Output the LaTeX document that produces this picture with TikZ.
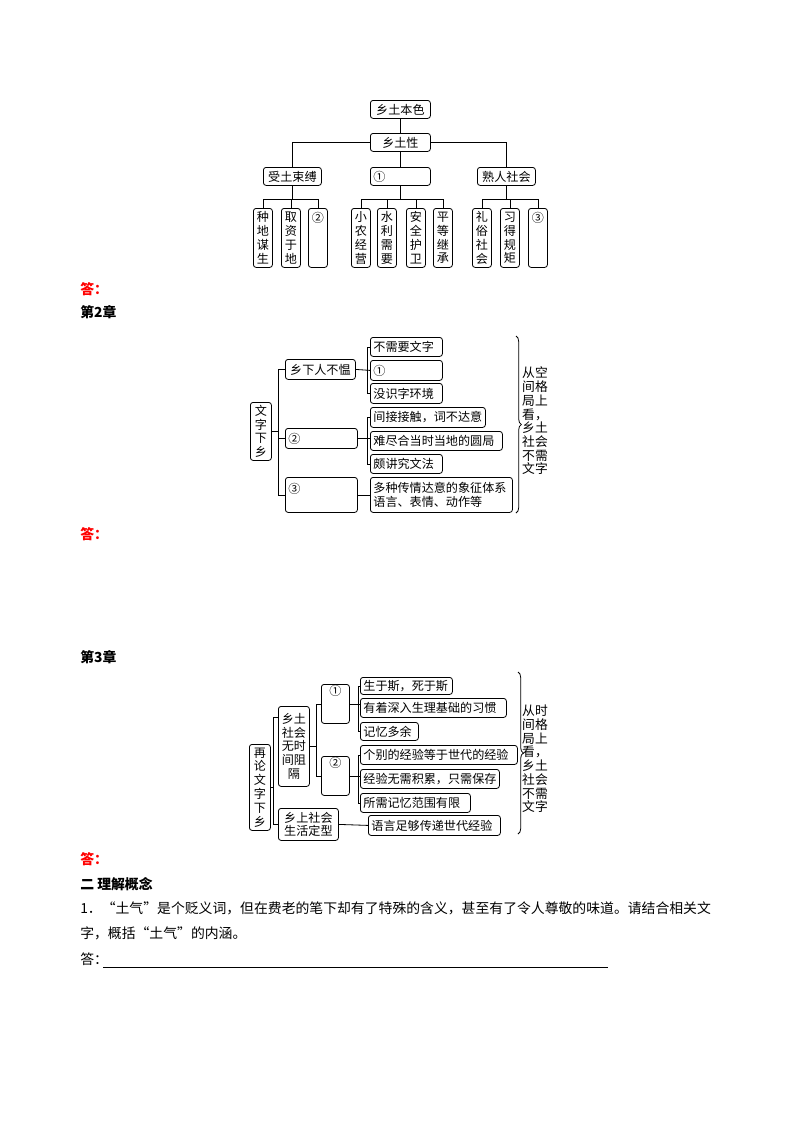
\documentclass[tikz,border=0pt]{standalone}
\usepackage{fontspec}
\setmainfont{Noto Sans CJK SC}
\usetikzlibrary{decorations.pathreplacing,calc}
\newcommand\bx[8]{%
  \pgfmathsetlengthmacro\tw{(#4-#2-6)*0.744pt}%
  \node[box,anchor=north west,minimum width={(#4-#2)*0.744pt},minimum height={(#5-#3)*0.744pt},text width=\tw,align=#6] (#1) at (#2,#3) {#7};}
\begin{document}
\begin{tikzpicture}[x=0.744pt,y=-0.744pt,
  box/.style={draw,rounded corners=2pt,line width=0.6pt,inner xsep=2.232pt,inner ysep=0pt,font=\fontsize{9}{10.3}\selectfont},
  ln/.style={line width=0.6pt},
  body/.style={anchor=west,inner sep=0,font=\fontsize{10.3}{12}\selectfont},
  side/.style={inner sep=0,align=center,font=\fontsize{9.5}{10.2}\selectfont},
  brc/.style={decorate,decoration={brace,amplitude=4pt},line width=0.6pt}]
\useasboundingbox (0,0) rectangle (800,1132);
% ---------- diagram 1
\bx{xtbs}{370}{100}{430}{118}{center}{乡土本色}{}
\bx{xtx}{370}{133}{430}{151}{center}{乡土性}{}
\bx{stsf}{263}{167}{321}{185}{center}{受土束缚}{}
\bx{q1a}{370}{167}{430}{185}{left}{①}{}
\bx{srsh}{477}{167}{535}{185}{center}{熟人社会}{}
\bx{c1}{253}{208}{272}{267}{center}{种\\地\\谋\\生}{}
\bx{c2}{281}{208}{300}{267}{center}{取\\资\\于\\地}{}
\bx{c3}{308}{208}{327}{267}{center}{②\\\mbox{}\\\mbox{}\\\mbox{}}{}
\bx{c4}{351}{208}{370}{267}{center}{小\\农\\经\\营}{}
\bx{c5}{377}{208}{396}{267}{center}{水\\利\\需\\要}{}
\bx{c6}{406}{208}{425}{267}{center}{安\\全\\护\\卫}{}
\bx{c7}{433}{208}{452}{267}{center}{平\\等\\继\\承}{}
\bx{c8}{472}{208}{491}{267}{center}{礼\\俗\\社\\会}{}
\bx{c9}{500}{208}{519}{267}{center}{习\\得\\规\\矩}{}
\bx{c10}{528}{208}{547}{267}{center}{③\\\mbox{}\\\mbox{}\\\mbox{}}{}
\draw[ln] (xtbs.south) -- (xtx.north);
\draw[ln] (xtx.west) -| (stsf.north);
\draw[ln] (xtx.east) -| (srsh.north);
\draw[ln] (xtx.south) -- (q1a.north);
\draw[ln] (stsf.south) -- ++(0,14) coordinate (j1);
\draw[ln] (c1.north) |- (j1) -| (c3.north);
\draw[ln] (c2.north) -- (c2.north |- j1);
\draw[ln] (q1a.south) -- ++(0,14) coordinate (j2);
\draw[ln] (c4.north) |- (j2) -| (c7.north);
\draw[ln] (c5.north) -- (c5.north |- j2);
\draw[ln] (c6.north) -- (c6.north |- j2);
\draw[ln] (srsh.south) -- ++(0,14) coordinate (j3);
\draw[ln] (c8.north) |- (j3) -| (c10.north);
\draw[ln] (c9.north) -- (c9.north |- j3);
\node[body,text=red,font=\fontsize{10.3}{12}\selectfont\bfseries] (a1) at (80,289) {答：};
\node[body,font=\fontsize{10.3}{12}\selectfont\bfseries] (ch2) at (80,312) {第2章};
% ---------- diagram 2
\bx{wzxx}{250}{402}{271}{460}{center}{文\\字\\下\\乡}{}
\bx{b1}{285}{359}{355}{379}{center}{乡下人不愠}{}
\bx{b2}{285}{428}{357}{448}{left}{②}{}
\bx{b3}{285}{477}{357}{512}{left}{③\\\mbox{}}{}
\bx{l1}{370}{337}{442}{356}{left}{不需要文字}{}
\bx{l2}{370}{360}{442}{380}{left}{①}{}
\bx{l3}{370}{383}{442}{403}{left}{没识字环境}{}
\bx{l4}{370}{407}{485}{427}{left}{间接接触，词不达意}{}
\bx{l5}{370}{431}{502}{450}{left}{难尽合当时当地的圆局}{}
\bx{l6}{370}{454}{442}{473}{left}{颇讲究文法}{}
\bx{l7}{370}{477}{512}{512}{left}{多种传情达意的象征体系\\语言、表情、动作等}{}
\draw[ln] (wzxx.east) -- ++(7,0);
\draw[ln] (b1.west) -- ++(-7,0) |- (b3.west);
\draw[ln] (b2.west) -- ++(-7,0);
\draw[ln] (l1.west) -- ++(-3,0) |- (l3.west);
\draw[ln] (b1.east) -- (l2.west);
\draw[ln] (l4.west) -- ++(-3,0) |- (l6.west);
\draw[ln] (b2.east) -- (b2.east -| l5.west);
\draw[ln] (b3.east) -- (b3.east -| l7.west);
\coordinate (br1a) at (516,336); \coordinate (br1b) at (516,513);
\draw[brc] (br1a) -- (br1b);
\node[side] (s1) at (535,421) {从空\\间格\\局上\\看，\\乡土\\社会\\不需\\文字};
\node[body,text=red,font=\fontsize{10.3}{12}\selectfont\bfseries] (a2) at (80,534) {答：};
\node[body,font=\fontsize{10.3}{12}\selectfont\bfseries] (ch3) at (80,657) {第3章};
% ---------- diagram 3
\bx{zl}{249}{744}{270}{830}{center}{再\\论\\文\\字\\下\\乡}{}
\bx{xt}{278}{706}{309}{786}{center}{乡土\\社会\\无时\\间阻\\隔}{}
\bx{xs}{278}{808}{338}{840}{center}{乡上社会\\生活定型}{}
\bx{q1}{321}{684}{349}{723}{center}{①\\\mbox{}\\\mbox{}}{}
\bx{q2}{321}{756}{349}{795}{center}{②\\\mbox{}\\\mbox{}}{}
\bx{g1}{360}{677}{452}{694}{left}{生于斯，死于斯}{}
\bx{g2}{360}{698}{506}{717}{left}{有着深入生理基础的习惯}{}
\bx{g3}{360}{722}{418}{740}{left}{记忆多余}{}
\bx{g4}{360}{745}{517}{764}{left}{个别的经验等于世代的经验}{}
\bx{g5}{360}{769}{499}{788}{left}{经验无需积累，只需保存}{}
\bx{g6}{360}{793}{470}{812}{left}{所需记忆范围有限}{}
\bx{yy}{368}{815}{500}{835}{left}{语言足够传递世代经验}{}
\draw[ln] (zl.east) -- ++(3,0);
\draw[ln] ($(xt.north west)+(0,11)$) -- ++(-5,0) |- (xs.west);
\draw[ln] (xt.east) -- ++(7,0);
\draw[ln] (q1.west) -- ++(-5,0) |- (q2.west);
\draw[ln] (g1.west) -- ++(-2,0) |- (g3.west);
\draw[ln] (q1.east) -- (q1.east -| g2.west);
\draw[ln] (g4.west) -- ++(-2,0) |- (g6.west);
\draw[ln] (q2.east) -- (q2.east -| g5.west);
\draw[ln] (xs.east) -- (yy.west);
\coordinate (br2a) at (518,672); \coordinate (br2b) at (518,834);
\draw[brc] (br2a) -- (br2b);
\node[side] (s2) at (535,759) {从时\\间格\\局上\\看，\\乡土\\社会\\不需\\文字};
% ---------- bottom text
\node[body,text=red,font=\fontsize{10.3}{12}\selectfont\bfseries] (a3) at (80,859) {答：};
\node[body,font=\fontsize{10.3}{12}\selectfont\bfseries] (h2) at (80,884) {二\ 理解概念};
\node[body] (t1) at (80,908) {1．“土气”是个贬义词，但在费老的笔下却有了特殊的含义，甚至有了令人尊敬的味道。请结合相关文};
\node[body] (t2) at (80,933) {字，概括“土气”的内涵。};
\node[body] (t3) at (80,959) {答：};
\coordinate (u1) at (103,967); \coordinate (u2) at (608,967);
\draw[line width=0.6pt] (u1) -- (u2);
\end{tikzpicture}
\end{document}
